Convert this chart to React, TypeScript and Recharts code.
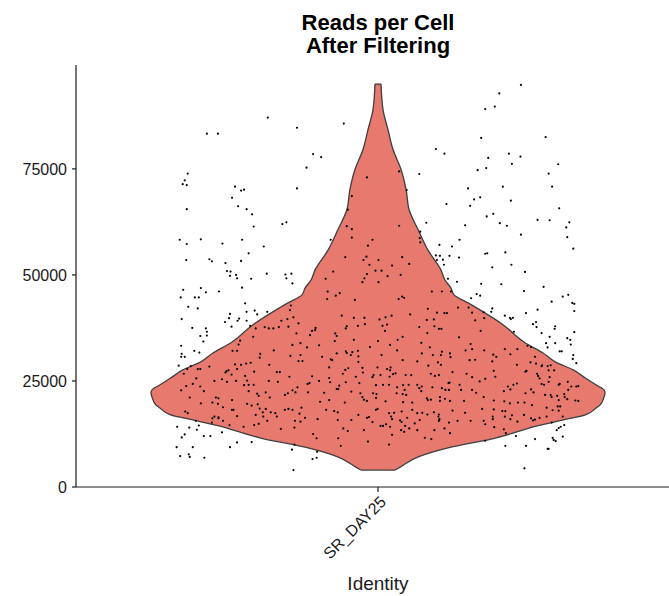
import React from "react";
import { ComposedChart, Area, Scatter, XAxis, YAxis, ReferenceLine } from "recharts";

const FONT = "'Liberation Sans', Arial, Helvetica, sans-serif";

const titleLines = ["Reads per Cell", "After Filtering"];
const identities = ["SR_DAY25"];
const yTicks = [0, 25000, 50000, 75000];

// violin outline: reads level and half width of the density (x units, category at 1)
const densityReads = [
  4000, 4700, 7100, 9200, 11600, 12700, 13900, 15800, 17000, 18600, 19300, 21200, 22200, 22900, 24100,
  25700, 27600, 29500, 31600, 34000, 38200, 43400, 45300, 46900, 48800, 51200, 55900, 60600, 65300,
  70000, 74800, 79500, 84200, 88900, 95000,
];
const densityHalfWidth = [
  0.034, 0.044, 0.08, 0.139, 0.235, 0.268, 0.3, 0.368, 0.412, 0.433, 0.441, 0.449, 0.451, 0.449, 0.433,
  0.412, 0.388, 0.352, 0.328, 0.292, 0.249, 0.179, 0.151, 0.145, 0.133, 0.125, 0.099, 0.08, 0.062,
  0.056, 0.046, 0.03, 0.02, 0.01, 0.006,
];

// one entry per cell: [jitter offset, reads]
const cells: [number, number][] = [
  [-0.219,87100],[-0.161,84700],[-0.34,83300],[-0.318,83300],[-0.142,75300],[-0.378,73900],[-0.384,72300],[-0.388,71400],[-0.38,71200],[-0.284,70800],
  [-0.272,69900],[-0.266,70100],[-0.161,70400],[-0.29,68200],[-0.278,66200],[-0.261,65500],[-0.38,65500],[-0.25,64300],[-0.19,62000],[-0.182,62400],
  [-0.247,61400],[-0.394,58300],[-0.352,58400],[-0.27,58300],[-0.38,57300],[-0.309,57400],[-0.227,56700],[-0.257,55100],[-0.381,53500],[-0.335,53700],
  [-0.33,53200],[-0.272,53300],[-0.303,52800],[-0.3,50900],[-0.293,50800],[-0.294,49800],[-0.282,50000],[-0.28,49200],[-0.221,50300],[-0.184,50100],
  [-0.172,50300],[-0.182,49200],[-0.252,49100],
  [-0.068,85700],[-0.129,78500],[-0.113,77800],[0.115,79700],[0.132,78600],[0.082,73800],[-0.022,73000],[0.042,74400],[0.057,70000],[-0.052,68600],
  [-0.06,65400],[0.136,66700],[0.096,62300],[-0.062,61500],[-0.052,60800],[0.042,61600],[0.084,60200],[-0.052,58800],[-0.094,58300],[-0.011,58300],
  [0.083,58700],[0.084,57700],[-0.02,56900],[0.122,57100],[-0.065,54200],[-0.023,54300],[-0.029,53500],[0.001,53500],[0.048,54200],[0.115,54600],
  [0.123,54500],[0.142,54500],[0.117,53500],[0.129,53600],[-0.017,52400],[0.028,52200],[0.062,52600],[0.131,52400],[-0.089,50800],[-0.005,51000],
  [0.007,51000],[-0.022,50200],[0.045,50000],[0.019,49700],[-0.027,49200],[-0.104,49100],[0.139,49100],
  [0.284,94800],[0.241,92800],[0.232,89700],[0.213,89100],[0.205,82300],[0.333,82500],[0.219,77600],[0.26,78600],[0.283,77900],[0.266,76200],
  [0.358,76100],[0.215,75200],[0.198,74700],[0.339,73900],[0.248,70800],[0.179,70400],[0.346,70800],[0.203,68300],[0.191,67800],[0.264,67500],
  [0.183,66300],[0.229,64400],[0.216,63800],[0.36,65700],[0.242,62200],[0.256,61600],[0.317,63000],[0.341,62900],[0.38,62400],[0.374,61200],
  [0.173,61700],[0.284,59500],[0.376,58900],[0.162,58300],[0.388,56200],[0.147,56700],[0.161,54100],[0.213,55000],[0.217,55100],[0.253,55300],
  [0.227,51800],[0.265,52400],[0.292,50700],
  [-0.17,48000],[-0.387,46500],[-0.352,46900],[-0.342,45900],[-0.316,46100],[-0.27,47000],[-0.392,44700],[-0.364,44700],[-0.356,44700],[-0.377,42500],
  [-0.358,42100],[-0.264,43300],[-0.245,41600],[-0.24,40700],[-0.294,40800],[-0.261,41300],[-0.22,41300],[-0.39,39600],[-0.296,39800],[-0.304,38900],
  [-0.276,39700],[-0.279,39200],[-0.261,39200],[-0.291,37800],[-0.369,37500],[-0.342,37400],[-0.34,36600],[-0.34,35700],[-0.353,35600],[-0.347,34300],
  [-0.254,38000],[-0.391,33300],[-0.365,32100],[-0.355,31700],[-0.39,31400],[-0.391,30700],[-0.384,30700],[-0.396,28600],[-0.372,28500],
  [-0.243,37400],[-0.225,37700],[-0.217,37400],[-0.208,37400],[-0.197,37700],[-0.178,37800],[-0.192,39200],[-0.18,39600],[-0.173,42800],[-0.175,41700],
  [-0.168,40000],[-0.158,38600],[-0.162,36200],[-0.17,33500],[-0.154,33900],[-0.248,35400],[-0.274,34500],[-0.277,33600],[-0.289,32100],[-0.28,32100],
  [-0.234,31400],[-0.207,32200],[-0.174,30900],[-0.154,31100],[-0.158,29700],[-0.15,29700],[-0.235,30500],[-0.253,29300],[-0.262,29100],[-0.272,28800],
  [-0.284,28900],[-0.335,28400],[-0.353,27800],[-0.358,27800],[-0.379,27800],[-0.216,28800],[-0.297,27500],[-0.301,27300],[-0.303,27000],[-0.28,27800],
  [-0.291,26500],[-0.264,26200],[-0.246,27200],[-0.201,27100],[-0.195,27100],[-0.176,26000],[-0.217,25000],[-0.199,24800],[-0.386,26700],[-0.361,25600],
  [-0.325,25000],[-0.31,25400],[-0.3,24800],[-0.282,25000],[-0.26,25100],[-0.368,24300],[-0.381,23800],[-0.353,23700],[-0.346,22600],[-0.391,22800],
  [-0.266,24000],[-0.257,24100],[-0.247,24100],[-0.257,22600],[-0.16,23500],[-0.17,22800],[-0.179,22100],[-0.164,22300],[-0.24,22000],[-0.223,22300],
  [-0.237,21500],[-0.215,21100],[-0.185,21700],[-0.374,21100],[-0.322,21100],[-0.317,20900],[-0.29,20500],[-0.329,19900],[-0.352,19700],[-0.318,19600],
  [-0.26,19600],[-0.239,19500],[-0.235,18500],[-0.223,18400],[-0.251,19200],[-0.308,18800],[-0.29,18200],[-0.287,18200],[-0.178,18400],[-0.185,18200],
  [-0.17,18200],[-0.152,18700],[-0.156,17300],[-0.213,17600],[-0.204,17400],[-0.201,16600],[-0.229,17600],[-0.228,16600],[-0.243,17000],[-0.28,16700],
  [-0.317,16400],[-0.325,16600],[-0.383,17800],[-0.378,17400],[-0.329,16200],[-0.317,16200],[-0.308,15600],[-0.33,15200],[-0.362,15600],[-0.165,15600],
  [-0.154,15400],[-0.22,15600],[-0.237,14900],[-0.295,14600],[-0.267,14200],[-0.246,14600],[-0.166,14000],[-0.193,13700],[-0.356,14500],[-0.375,14000],
  [-0.399,14200],[-0.39,11700],[-0.384,12400],[-0.36,13500],[-0.31,12900],[-0.346,12000],[-0.333,12000],[-0.251,10600],[-0.28,10500],[-0.166,10000],
  [-0.4,9400],[-0.368,9400],[-0.294,9400],[-0.393,7300],[-0.376,7700],[-0.374,7100],[-0.345,6900],[-0.171,8800],[-0.168,4000],
  [-0.031,48300],[0.001,48300],[-0.1,46100],[-0.076,45700],[-0.084,45100],[-0.101,44300],[-0.046,44100],[0.041,44300],[0.048,44900],[0.052,44600],
  [0.107,46100],[0.127,46100],[-0.072,40400],[-0.048,39900],[-0.027,39900],[-0.026,38400],[0.003,39500],[0.015,40000],[0.027,40400],[0.064,40700],
  [0.099,42000],[0.117,41100],[0.132,41000],[0.097,39400],[0.111,39500],[-0.062,37900],[-0.064,37400],[-0.04,38000],[0.009,38000],[0.018,38300],
  [0.014,36800],[0.082,37700],[0.112,37900],[0.121,37300],[0.126,37300],[0.098,36300],[-0.124,37500],[-0.131,36800],[-0.125,37000],[-0.135,35800],
  [-0.085,36200],[-0.082,35600],[0.049,35400],[0.039,34700],[-0.048,34700],[-0.086,34400],[-0.117,33400],[-0.141,32900],[0.086,34000],[0,34400],
  [0.024,33500],[0.103,32900],[-0.016,33000],[-0.04,32100],[-0.064,32000],[-0.062,31600],[-0.054,31100],[-0.051,31800],[-0.039,30800],[-0.082,31500],
  [-0.111,30700],[-0.094,30100],[-0.091,29900],[0.007,31100],[0.038,32200],[0.049,29900],[0.087,31500],[0.127,31900],[0.109,31100],[0.125,31100],
  [0.078,29600],[0.119,29400],[-0.039,29500],[-0.097,28200],[-0.065,27600],[-0.059,28000],[-0.031,28100],[-0.001,28200],[0.018,27800],[0.025,28200],
  [0.024,27500],[0.1,28600],[0.125,28800],[-0.07,26700],[-0.03,27000],[-0.044,26000],[-0.009,26400],[-0.011,25900],[0.005,26400],[0.03,26600],
  [0.035,26800],[0.055,26400],[0.066,26400],[0.023,26000],[0.105,26700],[0.113,26200],[0.121,26400],[-0.131,26100],[-0.097,25700],[-0.117,25000],
  [-0.136,24500],[-0.14,24300],[-0.095,24700],[-0.064,24700],[-0.037,24500],[-0.077,23900],[-0.082,23100],[-0.079,23100],[-0.004,24000],[0.01,24100],
  [0.022,24100],[0.038,23500],[0.05,24000],[0.061,24100],[0.053,22900],[0.056,21700],[0.049,21900],[0.078,24100],[0.082,23300],[0.087,23700],
  [0.086,22600],[0.108,23500],[0.127,23300],[0.134,22900],[0.14,24500],[-0.053,22500],[-0.035,22100],[-0.01,22100],[-0.003,21900],[0.037,22100],
  [-0.107,22200],[-0.139,22300],[-0.066,19900],[-0.115,20100],[-0.097,20500],[-0.031,21200],[-0.028,20600],[-0.022,20300],[-0.004,21000],[0.015,20200],
  [0.05,20000],[0.068,19900],[0.097,20900],[0.099,20500],[0.105,20600],[0.123,21200],[0.123,20300],[0.133,20800],[-0.103,18200],[-0.087,17900],
  [-0.08,17600],[-0.004,18200],[-0.001,18400],[-0.039,17000],[0.022,17400],[0.032,17500],[0.047,17800],[0.068,18200],[0.078,17400],[0.088,17500],
  [0.098,17100],[0.111,17600],[0.121,17100],[-0.145,16300],[-0.12,16000],[-0.08,15800],[-0.053,15800],[-0.022,16300],[-0.018,16500],[-0.011,15300],
  [0.026,16600],[0.028,16000],[0.044,15700],[0.047,15300],[0.058,16300],[0.073,15000],[0.083,15800],[0.12,16600],[0.121,15600],[0.122,16000],
  [0.005,14400],[0.01,14400],[0.016,14800],[0.024,14200],[0.054,14400],[0.062,13800],[-0.069,13800],[-0.06,13200],[-0.028,13400],[0.046,13400],
  [0.052,13000],[0.078,13400],[0.112,13400],[0.132,13800],[-0.129,12500],[-0.122,11500],[-0.079,11500],[0.028,12300],[0.093,11600],[0.106,11300],
  [-0.02,10700],[-0.074,9700],[0.022,10000],[-0.121,8300],[-0.122,6900],[-0.13,6600],
  [0.205,47900],[0.245,47800],[0.29,46200],[0.329,47200],[0.185,44500],[0.196,45500],[0.203,45100],[0.367,44900],[0.378,45300],[0.386,43400],
  [0.39,43200],[0.345,43700],[0.227,42100],[0.225,41300],[0.252,40400],[0.262,39900],[0.264,39600],[0.268,39900],[0.294,41000],[0.317,41800],
  [0.39,41500],[0.308,38400],[0.314,38900],[0.315,37700],[0.352,37900],[0.351,37300],[0.39,36500],[0.325,36300],[0.27,36600],[0.341,35400],
  [0.376,35100],[0.382,34700],[0.334,33900],[0.352,33900],[0.383,33600],[0.337,32900],[0.361,32000],[0.365,32000],[0.388,31100],[0.387,30200],
  [0.394,29200],[0.297,33300],[0.304,33000],
  [0.157,48400],[0.145,46100],[0.18,42300],[0.187,41100],[0.21,41200],[0.193,39300],[0.211,39800],[0.137,41000],[0.159,42300],[0.161,35300],
  [0.204,36800],[0.184,33700],[0.187,32500],[0.174,32200],[0.211,32200],[0.229,31200],[0.235,30700],[0.252,32500],[0.263,31300],[0.277,32500],
  [0.143,31500],[0.144,30600],[0.182,29900],[0.193,30000],[0.227,29600],[0.276,28800],[0.295,27400],[0.293,27200],[0.303,29400],[0.312,30700],
  [0.314,29100],[0.325,28500],[0.326,28700],[0.337,28500],[0.343,28700],[0.339,27500],[0.35,27500],[0.148,27100],[0.176,26700],[0.187,25900],
  [0.202,24900],[0.213,25500],[0.23,27400],[0.233,26000],[0.316,26700],[0.318,26200],[0.321,25600],[0.341,25900],[0.339,24800],[0.325,24300],
  [0.33,24100],[0.276,24400],[0.269,24100],[0.258,23700],[0.142,24600],[0.162,24100],[0.141,22900],[0.165,22900],[0.187,22900],[0.195,22200],
  [0.25,22600],[0.263,23000],[0.304,23000],[0.293,22100],[0.309,22300],[0.359,24100],[0.361,24300],[0.377,24800],[0.378,22900],[0.384,23700],
  [0.394,23700],[0.398,23800],[0.332,21700],[0.343,21700],[0.345,21200],[0.356,21500],[0.37,21900],[0.371,21200],[0.359,20500],[0.376,20700],
  [0.392,20400],[0.398,20300],[0.143,20300],[0.171,20300],[0.21,21200],[0.23,20400],[0.251,20200],[0.262,19700],[0.278,19900],[0.291,19900],
  [0.306,19300],[0.335,18700],[0.347,18100],[0.357,19000],[0.362,19000],[0.359,18000],[0.148,18000],[0.173,17500],[0.207,18400],[0.23,18300],
  [0.247,17900],[0.253,17900],[0.252,16600],[0.266,16900],[0.263,16000],[0.277,15400],[0.29,17000],[0.304,16200],[0.308,15700],[0.312,15900],
  [0.321,16300],[0.335,16600],[0.345,15200],[0.367,16600],[0.228,16600],[0.228,16000],[0.21,15600],[0.184,15600],[0.158,15600],[0.141,15200],
  [0.143,12700],[0.213,14800],[0.231,14100],[0.25,13600],[0.254,12700],[0.359,13900],[0.363,14200],[0.37,14600],[0.355,13400],[0.274,12000],
  [0.347,11600],[0.349,11100],[0.353,10800],[0.367,11900],[0.312,11300],[0.213,10900],[0.253,9700],[0.294,9700],[0.337,9000],[0.339,9000],
  [0.291,4400],
];

const violinData = densityReads.map((reads, i) => ({
  reads,
  range: [1 - densityHalfWidth[i], 1 + densityHalfWidth[i]],
}));
const pointData = cells.map(([jitter, reads]) => ({ reads, pos: 1 + jitter }));

const lowCap = densityHalfWidth[0];
const highCap = densityHalfWidth[densityHalfWidth.length - 1];
const minReads = densityReads[0];
const maxReads = densityReads[densityReads.length - 1];

const VIOLIN_FILL = "#E8796F";
const VIOLIN_STROKE = "#3f3f3f";
const AXIS = "#1a1a1a";

const IdentityTick = ({ x, y, payload }: any) => (
  <g transform={`translate(${x + 9},${y + 9}) rotate(-45)`}>
    <text textAnchor="end" fontSize={16} fontFamily={FONT} fill={AXIS}>
      {identities[Math.round(payload.value) - 1]}
    </text>
  </g>
);

const Dot = (props: any) => <circle cx={props.cx} cy={props.cy} r={1.1} fill="#000" />;

export default function App() {
  return (
    <div
      style={{
        position: "absolute",
        left: 0,
        top: 0,
        width: 669,
        height: 596,
        overflow: "hidden",
        background: "#fff",
        fontFamily: FONT,
      }}
    >
      <div
        style={{
          position: "absolute",
          left: 0,
          top: 11,
          width: 756,
          textAlign: "center",
          fontWeight: "bold",
          fontSize: 22,
          lineHeight: "23px",
          color: "#000",
        }}
      >
        {titleLines.map((t) => (
          <div key={t}>{t}</div>
        ))}
      </div>
      <ComposedChart
        width={700}
        height={596}
        layout="vertical"
        margin={{ top: 65, right: 20, bottom: 0, left: 10 }}
      >
        <XAxis
          type="number"
          domain={[0.4, 1.6]}
          ticks={[1]}
          allowDataOverflow
          height={109}
          tickSize={5}
          tickMargin={2}
          tick={<IdentityTick />}
          axisLine={{ stroke: AXIS, strokeWidth: 1.2 }}
          tickLine={{ stroke: AXIS, strokeWidth: 1.2 }}
          label={{
            value: "Identity",
            position: "insideBottom",
            offset: 6,
            fontSize: 19,
            fill: AXIS,
            fontFamily: FONT,
          }}
        />
        <YAxis
          type="number"
          dataKey="reads"
          domain={[0, 99500]}
          ticks={yTicks}
          reversed
          allowDataOverflow
          width={66}
          tickSize={4}
          tickMargin={5}
          tick={{ fontSize: 16, fill: AXIS, fontFamily: FONT }}
          axisLine={{ stroke: AXIS, strokeWidth: 1.2 }}
          tickLine={{ stroke: AXIS, strokeWidth: 1.2 }}
        />
        <Area
          data={violinData}
          dataKey="range"
          type="monotone"
          fill={VIOLIN_FILL}
          fillOpacity={1}
          stroke={VIOLIN_STROKE}
          strokeWidth={1.3}
          isAnimationActive={false}
          dot={false}
          activeDot={false}
        />
        <ReferenceLine
          segment={[
            { x: 1 - lowCap, y: minReads },
            { x: 1 + lowCap, y: minReads },
          ]}
          stroke={VIOLIN_STROKE}
          strokeWidth={1.3}
        />
        <ReferenceLine
          segment={[
            { x: 1 - highCap, y: maxReads },
            { x: 1 + highCap, y: maxReads },
          ]}
          stroke={VIOLIN_STROKE}
          strokeWidth={1.3}
        />
        <Scatter data={pointData} dataKey="pos" shape={<Dot />} isAnimationActive={false} />
      </ComposedChart>
    </div>
  );
}
